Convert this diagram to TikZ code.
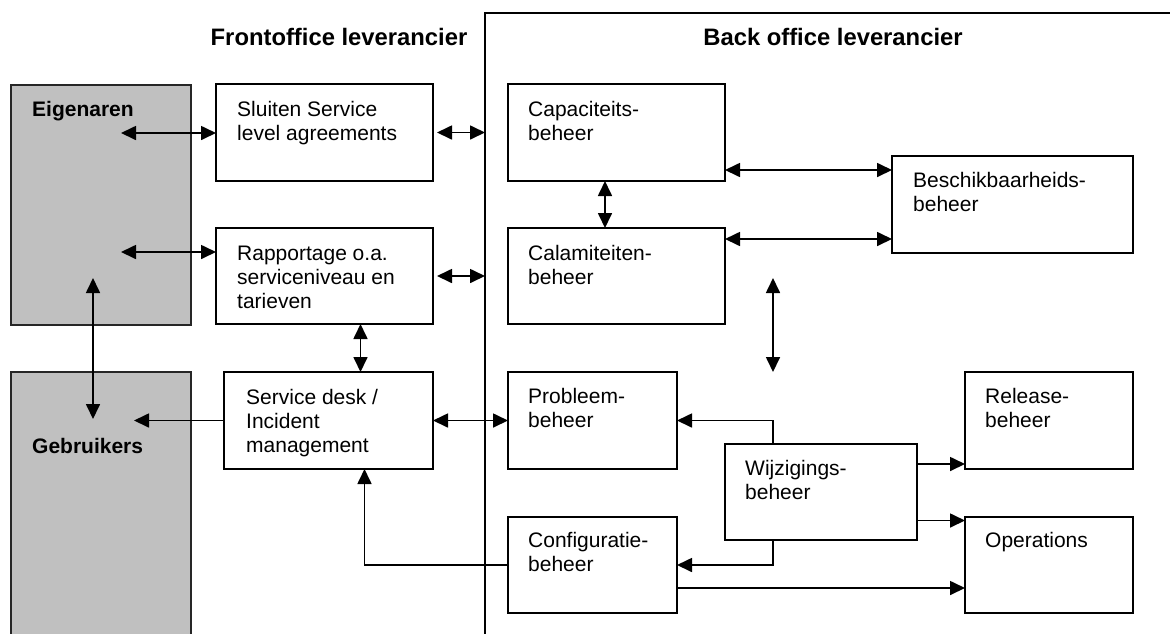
\documentclass[tikz,border=0pt]{standalone}
\usepackage{fontspec}
\setmainfont{Liberation Sans}
\usetikzlibrary{arrows.meta}
\definecolor{actorgray}{HTML}{C0C0C0}
\begin{document}
\begin{tikzpicture}[x=1pt,y=-1pt,
  >={Triangle[length=15pt,width=14pt]},
  box/.style={draw, line width=1.7pt, inner sep=0pt, outer sep=0pt,
              anchor=north west, fill=white},
  actor/.style={box, fill=actorgray, draw=black!85, line width=1.3pt},
  % text blocks are placed by the baseline of their last line
  txt/.style={anchor=base west, align=left, inner sep=0pt,
              font=\fontsize{21}{24}\selectfont},
  lbl/.style={txt, font=\fontsize{21}{24}\selectfont\bfseries},
  ttl/.style={anchor=base, inner sep=0pt,
              font=\fontsize{23.8}{28}\selectfont\bfseries},
  link/.style={line width=1.7pt, ->},
  dlink/.style={line width=1.7pt, <->}]
\useasboundingbox (0,0) rectangle (1170,633);
\clip (0,0) rectangle (1170,633);

% back office frame
\coordinate (bo) at (485,13);
\draw[line width=1.7pt] (485,650) -- (bo) -- (1190,13);

% titles
\node[ttl] (tfront) at (339,45) {Frontoffice leverancier};
\node[ttl] (tback)  at (833,45) {Back office leverancier};

% customer side
\node[actor, minimum width=180pt, minimum height=240pt] (eig) at (11,85) {};
\node[actor, minimum width=180pt, minimum height=290pt] (geb) at (11,372) {};
\node[lbl] (eigt) at (32,116) {Eigenaren};
\node[lbl] (gebt) at (32,453) {Gebruikers};

% front office
\node[box, minimum width=217pt, minimum height=97pt] (sla) at (216,84) {};
\node[txt] (slat) at (237,140) {Sluiten Service\\level agreements};
\node[box, minimum width=217pt, minimum height=96pt] (rap) at (216,228) {};
\node[txt] (rapt) at (237,308) {Rapportage o.a.\\serviceniveau en\\tarieven};
\node[box, minimum width=209pt, minimum height=97pt] (sd) at (224,372) {};
\node[txt] (sdt) at (246,452) {Service desk /\\Incident\\management};

% back office
\node[box, minimum width=217pt, minimum height=97pt] (cap) at (508,84) {};
\node[txt] (capt) at (528,140) {Capaciteits-\\beheer};
\node[box, minimum width=217pt, minimum height=96pt] (cal) at (508,228) {};
\node[txt] (calt) at (528,284) {Calamiteiten-\\beheer};
\node[box, minimum width=241pt, minimum height=97pt] (bes) at (892,156) {};
\node[txt] (best) at (913,211) {Beschikbaarheids-\\beheer};
\node[box, minimum width=169pt, minimum height=97pt] (prob) at (508,372) {};
\node[txt] (probt) at (528,427) {Probleem-\\beheer};
\node[box, minimum width=192pt, minimum height=96pt] (wijz) at (725,444) {};
\node[txt] (wijzt) at (745,499) {Wijzigings-\\beheer};
\node[box, minimum width=168pt, minimum height=97pt] (rel) at (965,372) {};
\node[txt] (relt) at (985,427) {Release-\\beheer};
\node[box, minimum width=168pt, minimum height=96pt] (ops) at (965,517) {};
\node[txt] (opst) at (985,547) {Operations};
\node[box, minimum width=169pt, minimum height=96pt] (cfg) at (508,517) {};
\node[txt] (cfgt) at (528,571) {Configuratie-\\beheer};

% customer links
\coordinate (e1) at (121,133);
\coordinate (e2) at (121,252);
\coordinate (e3) at (93,278);
\coordinate (g1) at (93,419);
\coordinate (g2) at (134,420);
\draw[dlink] (e1) -- (sla.west |- e1);
\draw[dlink] (e2) -- (rap.west |- e2);
\draw[dlink] (e3) -- (g1);
\draw[link] (sd.west) -- (g2 |- sd.west);

% front office to back office
\draw[dlink] ([xshift=4pt]sla.east) -- (bo |- sla.east);
\draw[dlink] ([xshift=4pt]rap.east) -- (bo |- rap.east);
\draw[dlink] ([xshift=36pt]rap.south) -- ([xshift=36pt]rap.south |- sd.north);
\draw[dlink] (sd.east) -- (prob.west);
\draw[link] (cfg.west) -| ([xshift=36pt]sd.south);

% back office links
\draw[dlink] ([xshift=-11.5pt]cap.south) -- ([xshift=-11.5pt]cal.north);
\coordinate (cb1) at ([yshift=11pt]cap.south east);
\coordinate (cb2) at ([yshift=-11pt]cal.north east);
\draw[dlink] (cb1) -- (cb1 -| bes.west);
\draw[dlink] (cb2) -- (cb2 -| bes.west);
\coordinate (v1) at (773,278);
\draw[dlink] (v1) -- (v1 |- prob.north);
\draw[link] ([xshift=-48pt]wijz.north) |- (prob.east);
\draw[link] ([xshift=-48pt]wijz.south) |- (cfg.east);
\coordinate (w1) at ([yshift=-20pt]wijz.north east);
\coordinate (w2) at ([yshift=19.5pt]wijz.south east);
\coordinate (w3) at ([yshift=25pt]cfg.south east);
\draw[link] (w1) -- (w1 -| rel.west);
\draw[link] (w2) -- (w2 -| ops.west);
\draw[link] (w3) -- (w3 -| ops.west);
\end{tikzpicture}
\end{document}
